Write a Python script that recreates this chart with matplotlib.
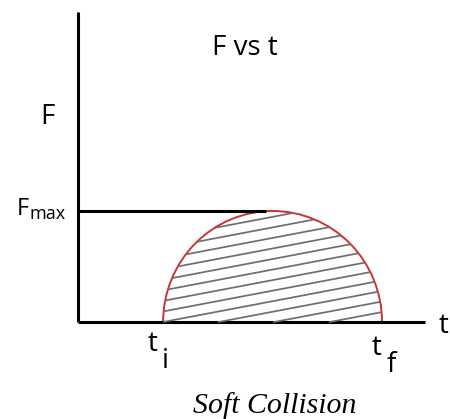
import numpy as np
import matplotlib
matplotlib.use('Agg')
import matplotlib.pyplot as plt
from matplotlib.patches import Arc, Ellipse

# impulse curve: force rises and falls over the collision time
t_i = 1.4
t_f = 5.0
F_max = 1.0

# axis extents and the point where the F_max guide stops
t_axis_end = 5.71
F_axis_end = 2.79
F_max_guide_end = 3.1

# hatch lines across the area under the curve
hatch_slope = 0.104
hatch_step = 0.095

sans = 'Open Sans'

fig = plt.figure(figsize=(4.5, 4.19), dpi=100)
ax = fig.add_axes([0, 0, 1, 1])
ax.set_xlim(-1.283, 6.118)
ax.set_ylim(-0.874, 2.901)
ax.axis('off')

# axes
ax.plot([0, 0], [0, F_axis_end], color='black', lw=2.2, solid_capstyle='butt')
ax.plot([0, t_axis_end], [0, 0], color='black', lw=2.2, solid_capstyle='butt')
ax.plot([0, F_max_guide_end], [F_max, F_max], color='black', lw=2.2,
        solid_capstyle='butt')

t_c = (t_i + t_f) / 2
width = t_f - t_i

# hatching clipped to the semi-ellipse
clip = Ellipse((t_c, 0), width, 2 * F_max, transform=ax.transData,
               facecolor='none', edgecolor='none')
ax.add_patch(clip)
for k in range(-8, 14):
    b = k * hatch_step
    start = max(t_i, t_i - b / hatch_slope)
    if start >= t_f:
        continue
    ts = np.array([start, t_f])
    line, = ax.plot(ts, b + hatch_slope * (ts - t_i), color='#6e6e6e', lw=1.25)
    line.set_clip_path(clip)

# curve outline
ax.add_patch(Arc((t_c, 0), width, 2 * F_max, theta1=0, theta2=180,
                 color='#cc3333', lw=1.4))

# labels
ax.text(2.74, 2.47, 'F vs t', fontsize=20, family=sans, ha='center', va='center')
ax.text(-0.50, 1.85, 'F', fontsize=20, family=sans, ha='center', va='center')
ax.text(-1.0, 0.964, 'F', fontsize=17, family=sans, ha='left', va='baseline')
ax.text(-0.806, 0.928, 'max', fontsize=13, family=sans, ha='left', va='baseline')
ax.text(1.15, -0.261, 't', fontsize=20, family=sans, ha='left', va='baseline')
ax.text(1.38, -0.414, 'i', fontsize=20, family=sans, ha='left', va='baseline')
ax.text(4.836, -0.297, 't', fontsize=20, family=sans, ha='left', va='baseline')
ax.text(5.08, -0.45, 'f', fontsize=20, family=sans, ha='left', va='baseline')
ax.text(5.93, -0.099, 't', fontsize=20, family=sans, ha='left', va='baseline')
ax.text(3.24, -0.82, 'Soft Collision', fontsize=21.5, family='Liberation Serif',
        style='italic', ha='center', va='baseline')

fig.savefig('out.png', dpi=100)
